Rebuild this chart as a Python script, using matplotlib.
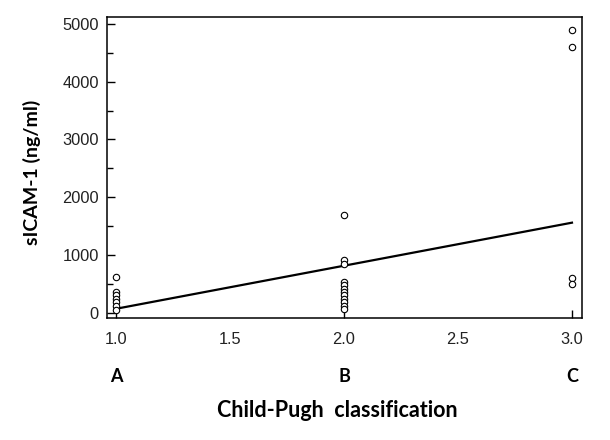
import numpy as np
import matplotlib
matplotlib.use("Agg")
from matplotlib import pyplot as plt
from matplotlib.ticker import MultipleLocator

# Child-Pugh class (1=A, 2=B, 3=C) and sICAM-1 values
grade_a = [620, 360, 300, 240, 180, 110, 40]
grade_b = [1700, 920, 840, 540, 480, 420, 360, 300, 240, 180, 120, 60]
grade_c = [4900, 4600, 600, 500]
# fitted line, value at x=1 and x=3
fit_x = [1.0, 3.0]
fit_y = [70, 1560]

class_names = ["A", "B", "C"]
xticks = [1.0, 1.5, 2.0, 2.5, 3.0]
yticks = [0, 1000, 2000, 3000, 4000, 5000]

plt.rcParams['font.family'] = ['Liberation Sans', 'DejaVu Sans']

fig = plt.figure(figsize=(6.1, 4.4), dpi=100)
ax = fig.add_axes([107 / 610, 1 - 318 / 440, 475 / 610, 301 / 440])

xs = [1] * len(grade_a) + [2] * len(grade_b) + [3] * len(grade_c)
ys = grade_a + grade_b + grade_c
ax.plot(xs, ys, 'o', ls='none', mfc='white', mec='black', ms=4.6, mew=0.8,
        zorder=3)
ax.plot(fit_x, fit_y, color='black', lw=1.6, zorder=2)

ax.set_xlim(0.96, 3.044)
ax.set_ylim(-90, 5120)

ax.set_xticks(xticks)
ax.set_xticklabels(["%.1f" % t for t in xticks])
ax.set_yticks(yticks)
ax.yaxis.set_minor_locator(MultipleLocator(500))
ax.tick_params(axis='both', direction='in', labelsize=11.8, width=1.0,
               color='black', labelcolor='#222222')
ax.tick_params(axis='y', which='major', length=6, pad=6)
ax.tick_params(axis='y', which='minor', direction='in', length=4, width=1.0)
ax.tick_params(axis='x', which='major', length=6, pad=10)
# only the whole-number classes carry a tick mark
for t, line in zip(xticks, ax.xaxis.get_ticklines()[::2]):
    if t not in (1.0, 2.0, 3.0):
        line.set_visible(False)

for s in ax.spines.values():
    s.set_linewidth(1.1)

trans = ax.get_xaxis_transform()
for i, name in enumerate(class_names):
    ax.text(i + 1, -0.193, name, transform=trans, ha='center', va='center',
            fontsize=13, fontweight='bold', family=['Lato', 'DejaVu Sans'])

fig.text(337 / 610, 1 - 410 / 440, "Child-Pugh  classification",
         ha='center', va='center', fontsize=15.5, fontweight='bold',
         family=['Lato', 'DejaVu Sans'])
fig.text(32 / 610, 1 - 172 / 440, "sICAM-1 (ng/ml)", rotation=90,
         ha='center', va='center', fontsize=14, fontweight='bold',
         family=['Lato', 'DejaVu Sans'])

fig.savefig("out.png", dpi=100)
